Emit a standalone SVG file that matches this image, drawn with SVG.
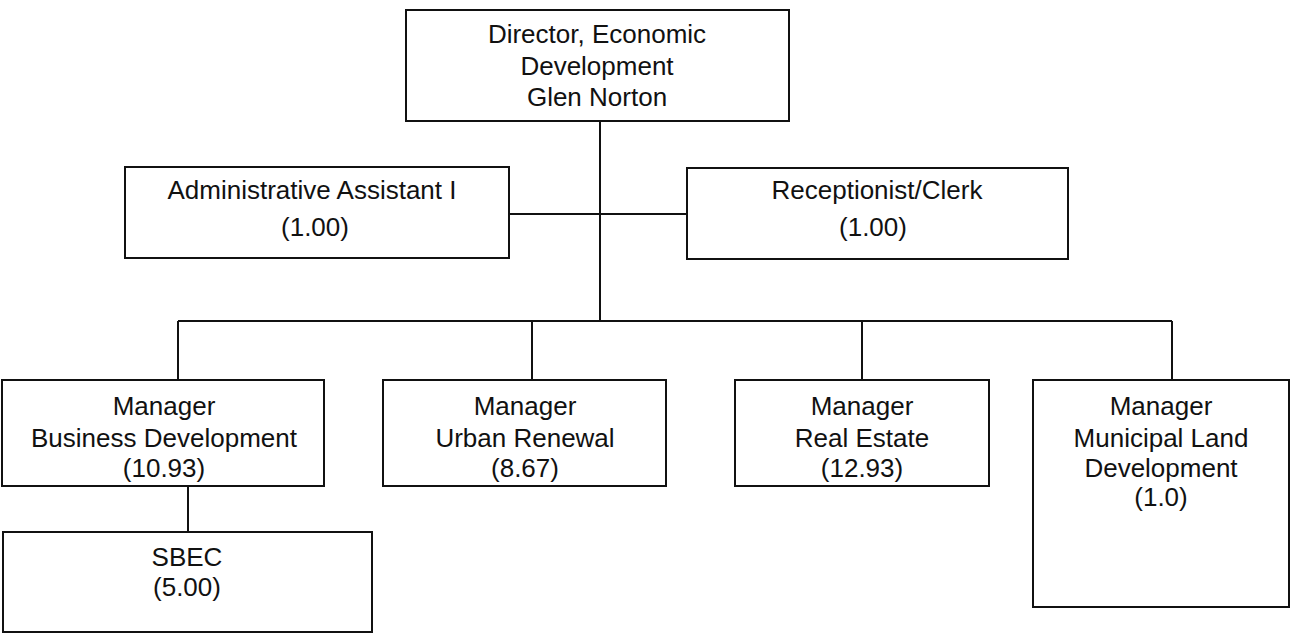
<svg xmlns="http://www.w3.org/2000/svg" width="1291" height="635" viewBox="0 0 1291 635">
  <style>
    .box { fill: #ffffff; stroke: #111111; stroke-width: 2; }
    .link { fill: none; stroke: #111111; stroke-width: 2; }
    text { font-family: "Liberation Sans", Arial, sans-serif; font-size: 26px; fill: #111111; text-anchor: middle; }
  </style>
  <rect width="1291" height="635" fill="#ffffff"/>

  <!-- reporting lines -->
  <g id="connectors">
    <path class="link" d="M600 121 V321"/>
    <path class="link" d="M509 214 H687"/>
    <path class="link" d="M178 321 H1172"/>
    <path class="link" d="M178 321 V380"/>
    <path class="link" d="M532 321 V380"/>
    <path class="link" d="M862 321 V380"/>
    <path class="link" d="M1172 321 V380"/>
    <path class="link" d="M188 486 V532"/>
  </g>

  <g id="director">
    <rect class="box" x="406" y="10" width="383" height="111"/>
    <text x="597" y="43">Director, Economic</text>
    <text x="597" y="75">Development</text>
    <text x="597" y="106">Glen Norton</text>
  </g>

  <g id="admin-assistant">
    <rect class="box" x="125" y="167" width="384" height="91"/>
    <text x="312" y="199">Administrative Assistant I</text>
    <text x="315" y="236">(1.00)</text>
  </g>

  <g id="receptionist">
    <rect class="box" x="687" y="168" width="381" height="91"/>
    <text x="877" y="199">Receptionist/Clerk</text>
    <text x="873" y="236">(1.00)</text>
  </g>

  <g id="business-development">
    <rect class="box" x="2" y="380" width="322" height="106"/>
    <text x="164" y="415">Manager</text>
    <text x="164" y="447">Business Development</text>
    <text x="164" y="477">(10.93)</text>
  </g>

  <g id="urban-renewal">
    <rect class="box" x="383" y="380" width="283" height="106"/>
    <text x="525" y="415">Manager</text>
    <text x="525" y="447">Urban Renewal</text>
    <text x="525" y="477">(8.67)</text>
  </g>

  <g id="real-estate">
    <rect class="box" x="735" y="380" width="254" height="106"/>
    <text x="862" y="415">Manager</text>
    <text x="862" y="447">Real Estate</text>
    <text x="862" y="477">(12.93)</text>
  </g>

  <g id="municipal-land">
    <rect class="box" x="1033" y="380" width="256" height="227"/>
    <text x="1161" y="415">Manager</text>
    <text x="1161" y="447">Municipal Land</text>
    <text x="1161" y="477">Development</text>
    <text x="1161" y="506">(1.0)</text>
  </g>

  <g id="sbec">
    <rect class="box" x="3" y="532" width="369" height="100"/>
    <text x="187" y="566">SBEC</text>
    <text x="187" y="596">(5.00)</text>
  </g>
</svg>
